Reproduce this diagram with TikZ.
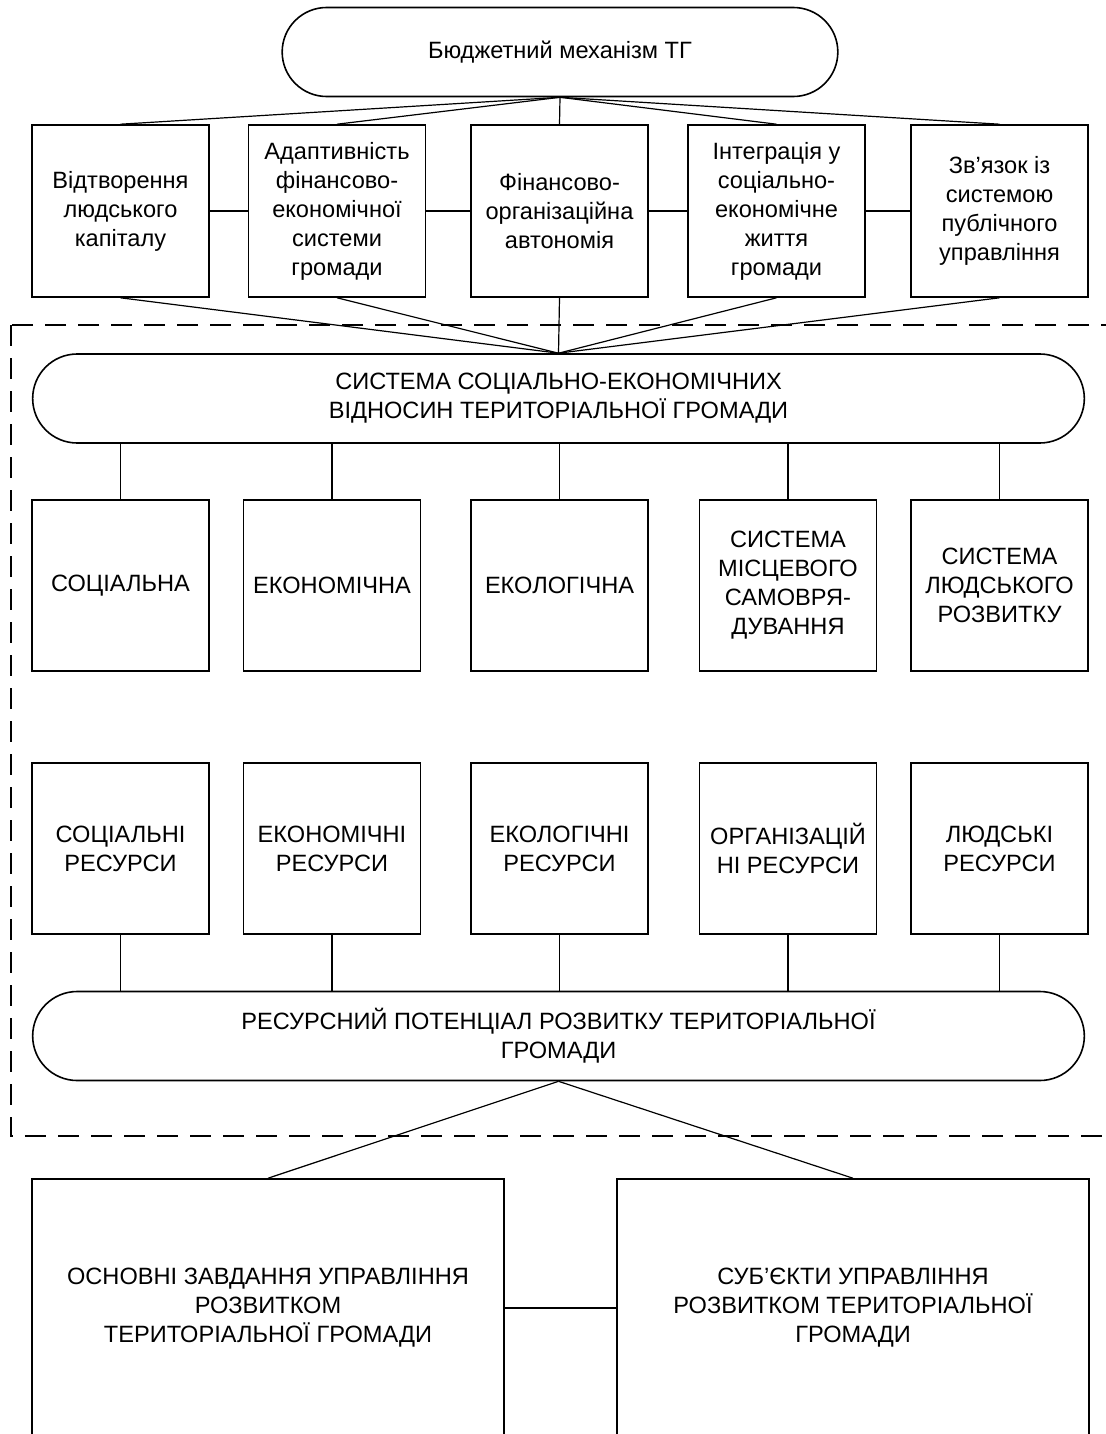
\documentclass[tikz,border=0pt]{standalone}
\usepackage{fontspec}
\setmainfont{Liberation Sans}
\usetikzlibrary{shapes.misc}

\begin{document}
\begin{tikzpicture}[x=0.5pt, y=-0.5pt,
    font=\fontsize{11.8}{14.5}\selectfont,
    box/.style={draw, line width=0.8pt, align=center, inner sep=1pt,
        minimum width=88.5pt, minimum height=85.5pt},
    oval/.style={draw, line width=0.8pt, align=center, rounded rectangle,
        minimum height=44.5pt},
    link/.style={line width=0.6pt},
    frame/.style={line width=0.6pt, dash pattern=on 10.5pt off 6pt}]
        \useasboundingbox (0,0) rectangle (1105,1434);

        % Dashed area
        \draw[frame] (11,325) rectangle (1125,1136);

        % Top
        \node[oval, minimum width=284.5pt] (mech) at (560,52) {Бюджетний механізм ТГ};

        % First row
        \node[box, minimum height=86pt] (vidtv) at (120.5,211) {Відтворення\\людського\\капіталу};
        \node[box, minimum height=86pt] (adapt) at (337,211) {Адаптивність\\фінансово-\\економічної\\системи\\громади};
        \node[box, minimum height=86pt] (avton) at (559.5,211) {Фінансово-\\організаційна\\автономія};
        \node[box, minimum height=86pt] (integr) at (776.5,211) {Інтеграція у\\соціально-\\економічне\\життя\\громади};
        \node[box, minimum height=86pt] (zvyaz) at (999.5,211) {Зв’язок із\\системою\\публічного\\управління};

        % System of relations
        \node[oval, minimum width=532.5pt] (sys) at (558.5,398.5) {СИСТЕМА СОЦІАЛЬНО-ЕКОНОМІЧНИХ\\ВІДНОСИН ТЕРИТОРІАЛЬНОЇ ГРОМАДИ};

        % Second row
        \node[box] (soc) at (120.5,585.5) {СОЦІАЛЬНА};
        \node[box] (ekon) at (332,585.5) {ЕКОНОМІЧНА};
        \node[box] (ekol) at (559.5,585.5) {ЕКОЛОГІЧНА};
        \node[box] (msv) at (788,585.5) {СИСТЕМА\\МІСЦЕВОГО\\САМОВРЯ-\\ДУВАННЯ};
        \node[box] (lrozv) at (999.5,585.5) {СИСТЕМА\\ЛЮДСЬКОГО\\РОЗВИТКУ};

        % Third row
        \node[box] (rsoc) at (120.5,848.5) {СОЦІАЛЬНІ\\РЕСУРСИ};
        \node[box] (rekon) at (332,848.5) {ЕКОНОМІЧНІ\\РЕСУРСИ};
        \node[box] (rekol) at (559.5,848.5) {ЕКОЛОГІЧНІ\\РЕСУРСИ};
        \node[box] (rorg) at (788,848.5) {ОРГАНІЗАЦІЙ\\НІ РЕСУРСИ};
        \node[box] (rlud) at (999.5,848.5) {ЛЮДСЬКІ\\РЕСУРСИ};

        % Resource potential
        \node[oval, minimum width=532.5pt] (potenc) at (558.5,1036) {РЕСУРСНИЙ ПОТЕНЦІАЛ РОЗВИТКУ ТЕРИТОРІАЛЬНОЇ\\ГРОМАДИ};

        % Bottom
        \node[box, minimum width=236pt, minimum height=129pt] (zavd) at (268,1308) {ОСНОВНІ ЗАВДАННЯ УПРАВЛІННЯ\\РОЗВИТКОМ\\ТЕРИТОРІАЛЬНОЇ ГРОМАДИ};
        \node[box, minimum width=236pt, minimum height=129pt] (subj) at (853,1308) {СУБ’ЄКТИ УПРАВЛІННЯ\\РОЗВИТКОМ ТЕРИТОРІАЛЬНОЇ\\ГРОМАДИ};

        % Connectors
        \foreach \n in {vidtv, adapt, avton, integr, zvyaz} {
            \draw[link] (mech.south) -- (\n.north);
            \draw[link] (\n.south) -- (sys.north);
        }
        \draw[link] (vidtv.east) -- (adapt.west);
        \draw[link] (adapt.east) -- (avton.west);
        \draw[link] (avton.east) -- (integr.west);
        \draw[link] (integr.east) -- (zvyaz.west);
        \foreach \n in {soc, ekon, ekol, msv, lrozv}
            \draw[link] (\n.north) -- (\n.north |- sys.south);
        \foreach \n in {rsoc, rekon, rekol, rorg, rlud}
            \draw[link] (\n.south) -- (\n.south |- potenc.north);
        \draw[link] (potenc.south) -- (zavd.north);
        \draw[link] (potenc.south) -- (subj.north);
        \draw[link] (zavd.east) -- (subj.west);
    \end{tikzpicture}
\end{document}
